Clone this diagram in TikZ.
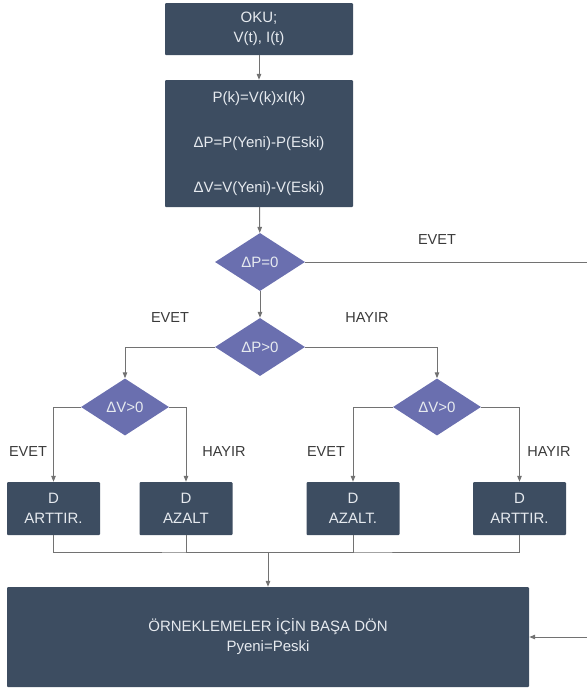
\documentclass[tikz,border=0pt]{standalone}
\usepackage{fontspec}
\setmainfont{Liberation Sans}
\usetikzlibrary{shapes.geometric,arrows.meta}
\definecolor{boxc}{HTML}{3D4D61}
\definecolor{diac}{HTML}{6A6FAF}
\definecolor{linec}{HTML}{727272}
\definecolor{txtc}{HTML}{E6EAEF}
\definecolor{lblc}{HTML}{3A3A3A}
\begin{document}
\begin{tikzpicture}[x=1pt,y=-1pt,
  box/.style={rectangle, fill=boxc, text=txtc, inner sep=0pt, align=center, rounded corners=1pt,
    font=\fontsize{15}{20}\selectfont},
  dia/.style={diamond, fill=diac, text=txtc, inner sep=0pt, minimum width=90pt, minimum height=58pt,
    font=\fontsize{15}{18}\selectfont},
  lbl/.style={text=lblc, inner sep=0pt, font=\fontsize{14.5}{17}\selectfont},
  ln/.style={draw=linec, line width=1pt},
  arr/.style={ln, -{Triangle[length=6pt,width=4.5pt]}}]
\useasboundingbox (0,0) rectangle (587,689);

\node[box, minimum width=188pt, minimum height=52pt] (oku) at (259,29) {OKU;\\V(t), I(t)};
\node[box, minimum width=188pt, minimum height=127pt] (calc) at (259,143.5)
  {P(k)=V(k)xI(k)\\[25pt]ΔP=P(Yeni)-P(Eski)\\[25pt]ΔV=V(Yeni)-V(Eski)};
\node[dia] (dp0) at (260,262) {ΔP=0};
\node[dia] (dp1) at (260,347) {ΔP>0};
\node[dia, minimum width=88pt, minimum height=57pt] (dvl) at (125,407) {ΔV>0};
\node[dia, minimum width=88pt, minimum height=57pt] (dvr) at (437,407) {ΔV>0};

\node[box, minimum width=93pt, minimum height=53pt] (b1) at (53.5,508.5) {D\\ARTTIR.};
\node[box, minimum width=93pt, minimum height=53pt] (b2) at (186,508.5) {D\\AZALT};
\node[box, minimum width=93pt, minimum height=53pt] (b3) at (353,508.5) {D\\AZALT.};
\node[box, minimum width=93pt, minimum height=53pt] (b4) at (519.5,508.5) {D\\ARTTIR.};

\node[box, minimum width=522pt, minimum height=100pt] (big) at (268,637)
  {ÖRNEKLEMELER İÇİN BAŞA DÖN\\Pyeni=Peski};

\node[lbl] (l1) at (437,240) {EVET};
\node[lbl] (l2) at (170,318) {EVET};
\node[lbl] (l3) at (367,318) {HAYIR};
\node[lbl] (l4) at (28,452) {EVET};
\node[lbl] (l5) at (224,452) {HAYIR};
\node[lbl] (l6) at (326,452) {EVET};
\node[lbl] (l7) at (549,452) {HAYIR};

\draw[arr] (oku) -- (calc);
\draw[arr] (calc) -- (dp0);
\draw[arr] (dp0) -- (dp1);
\draw[arr] (dp1.west) -| (dvl.north);
\draw[arr] (dp1.east) -| (dvr.north);
\draw[arr] (dvl.west) -| (b1.north);
\draw[arr] (dvl.east) -| (b2.north);
\draw[arr] (dvr.west) -| (b3.north);
\draw[arr] (dvr.east) -| (b4.north);

\coordinate (m) at (268,552);
\draw[ln] (b1.south) |- (m) -| (b4.south);
\draw[ln] (b2.south) |- (m);
\draw[ln] (b3.south) |- (m);
\draw[arr] (m) -- (big.north);

\coordinate (r1) at (587,262);
\coordinate (r2) at (587,637);
\draw[arr] (dp0.east) -- (r1) -- (r2) -- (big.east);
\end{tikzpicture}
\end{document}
